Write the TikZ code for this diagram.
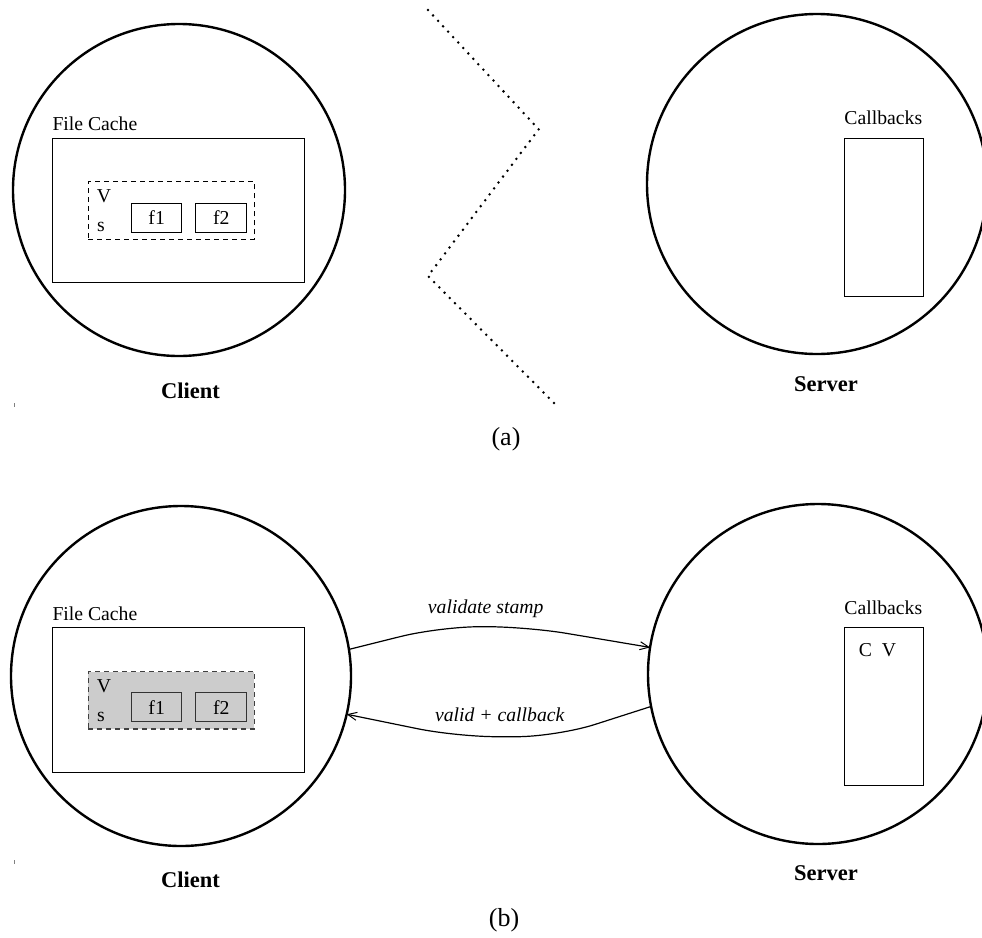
\documentclass[tikz,border=0pt]{standalone}
\usepackage{fontspec}
\setmainfont{Liberation Serif}
\usetikzlibrary{arrows.meta}
\tikzset{
  bigcirc/.style={draw, circle, line width=2.4pt, inner sep=0pt, outer sep=0pt},
  plainbox/.style={draw, rectangle, line width=1pt, inner sep=0pt, outer sep=0pt},
  dashbox/.style={draw, rectangle, dash pattern=on 5pt off 4pt, line width=1.1pt, inner sep=0pt, outer sep=0pt},
  txt/.style={inner sep=0pt, font=\fontsize{19.7}{23}\selectfont},
  ittxt/.style={inner sep=0pt, font=\fontsize{19.7}{23}\selectfont\itshape},
  boldlbl/.style={inner sep=0pt, font=\fontsize{22.5}{26}\selectfont\bfseries},
  figcap/.style={inner sep=0pt, font=\fontsize{26}{30}\selectfont},
  arr/.style={line width=1.2pt, -{Straight Barb[length=9pt,width=8pt,line width=1pt]}, rounded corners=40pt},
  dots/.style={line width=2.8pt, line cap=round, dash pattern=on 0pt off 7.4pt}
}
\begin{document}
\begin{tikzpicture}[x=1pt,y=-1pt]
\useasboundingbox (0,0) rectangle (982,937);

% ---------- (a) ----------
\node[bigcirc, minimum size=332pt] (clienta) at (179,190) {};
\node[bigcirc, minimum size=340pt] (servera) at (817,184) {};

\node[plainbox, minimum width=252pt, minimum height=144pt] (cachea) at (178.3,210.3) {};
\node[txt, anchor=base west] (cachelbla) at (52.3,130.7) {File Cache};
\node[dashbox, minimum width=166pt, minimum height=57.6pt] (vsa) at (171.3,210.5) {};
\node[txt, anchor=base west] (Va) at (96.7,202.7) {V};
\node[txt, anchor=base west] (sa) at (97,231.7) {s};
\node[plainbox, minimum width=50pt, minimum height=29pt, txt] (f1a) at (156.7,217.8) {f1};
\node[plainbox, minimum width=50.7pt, minimum height=29pt, txt] (f2a) at (221.3,217.8) {f2};

\node[plainbox, minimum width=79pt, minimum height=158.4pt] (cba) at (883.8,217.5) {};
\node[txt, anchor=base] (cblbla) at (883.3,124) {Callbacks};

\node[boldlbl, anchor=base] (clbla) at (190.5,398.6) {Client};
\node[boldlbl, anchor=base] (slbla) at (826,391.3) {Server};
\node[figcap] (capa) at (506,439) {(a)};

\coordinate (d1) at (428,10);
\coordinate (d2) at (538.7,129.3);
\coordinate (d3) at (428,276);
\coordinate (d4) at (556,405);
\draw[dots] (d1) -- (d2) -- (d3) -- (d4);

\draw[gray, line width=1pt] (14,403) -- (14,407);

% ---------- (b) ----------
\node[bigcirc, minimum size=340pt] (clientb) at (181,676) {};
\node[bigcirc, minimum size=340pt] (serverb) at (818,674) {};

\node[plainbox, minimum width=252pt, minimum height=144.6pt] (cacheb) at (178.3,700) {};
\node[txt, anchor=base west] (cachelblb) at (52.3,620.7) {File Cache};
\node[dashbox, draw=black!75, fill=black!20, minimum width=166pt, minimum height=57.3pt] (vsb) at (171.3,700.3) {};
\node[txt, anchor=base west] (Vb) at (96.7,692.3) {V};
\node[txt, anchor=base west] (sb) at (97,721) {s};
\node[plainbox, draw=black!80, minimum width=50pt, minimum height=29pt, txt] (f1b) at (156.7,707.2) {f1};
\node[plainbox, draw=black!80, minimum width=50.7pt, minimum height=29pt, txt] (f2b) at (221.3,707.2) {f2};

\node[plainbox, minimum width=79pt, minimum height=158.3pt] (cbb) at (883.8,706.8) {};
\node[txt, anchor=base] (cblblb) at (883.3,614) {Callbacks};
\node[txt, anchor=base] (cvb) at (877.5,656.7) {C\ \ V};

\coordinate (u1) at (440,626.7);
\coordinate (u2) at (527,626.7);
\draw[arr] (clientb.9.2) -- (u1) -- (u2) -- (serverb.171.7);
\node[ittxt, anchor=base] (vstamp) at (485.7,613.3) {validate stamp};

\coordinate (l1) at (556.7,736.7);
\coordinate (l2) at (456.7,736.7);
\draw[arr] (serverb.191.3) -- (l1) -- (l2) -- (clientb.-13.1);
\node[ittxt, anchor=base] (vcb) at (499.7,721.7) {valid + callback};

\node[boldlbl, anchor=base] (clblb) at (190.5,887.1) {Client};
\node[boldlbl, anchor=base] (slblb) at (826,880.6) {Server};
\node[figcap] (capb) at (504,920) {(b)};

\draw[gray, line width=1pt] (14,860) -- (14,864);
\end{tikzpicture}
\end{document}
